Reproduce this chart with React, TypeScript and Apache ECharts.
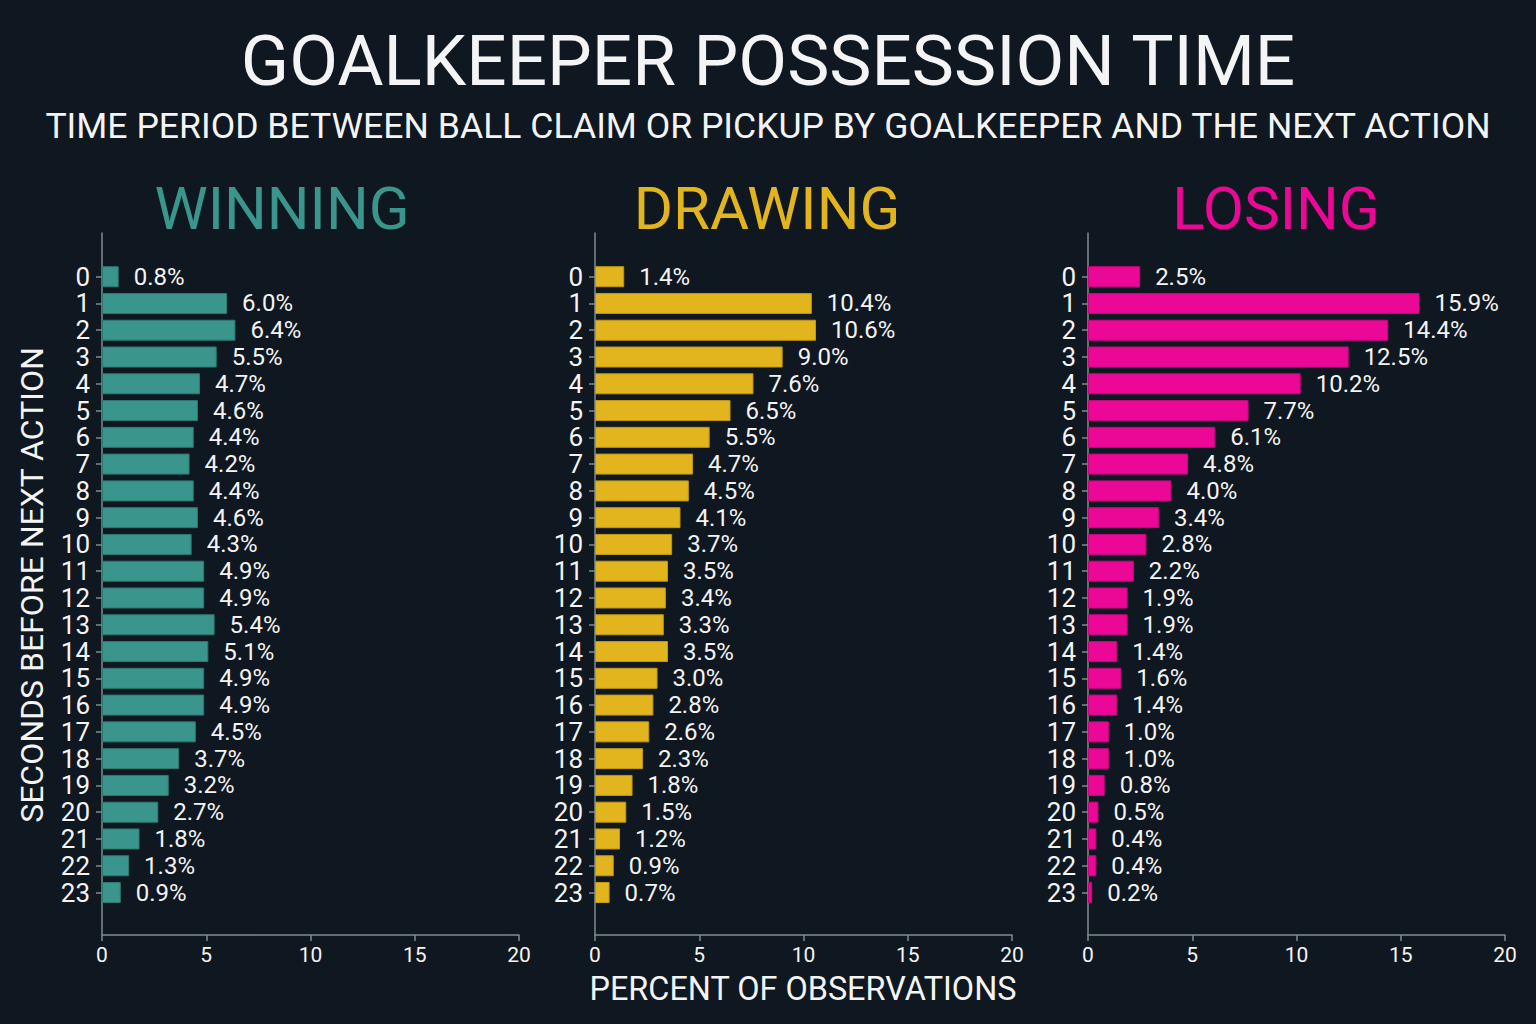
import React, { useEffect, useRef } from "react";
import * as echarts from "echarts";

const categories = Array.from({ length: 24 }, (_, i) => String(i));
const winning = [0.8, 6.0, 6.4, 5.5, 4.7, 4.6, 4.4, 4.2, 4.4, 4.6, 4.3, 4.9, 4.9, 5.4, 5.1, 4.9, 4.9, 4.5, 3.7, 3.2, 2.7, 1.8, 1.3, 0.9];
const drawing = [1.4, 10.4, 10.6, 9.0, 7.6, 6.5, 5.5, 4.7, 4.5, 4.1, 3.7, 3.5, 3.4, 3.3, 3.5, 3.0, 2.8, 2.6, 2.3, 1.8, 1.5, 1.2, 0.9, 0.7];
const losing = [2.5, 15.9, 14.4, 12.5, 10.2, 7.7, 6.1, 4.8, 4.0, 3.4, 2.8, 2.2, 1.9, 1.9, 1.4, 1.6, 1.4, 1.0, 1.0, 0.8, 0.5, 0.4, 0.4, 0.2];
const panelNames = ["WINNING", "DRAWING", "LOSING"];
const panelColors = ["#3a968c", "#e2b41d", "#ec0896"];
const panelBorders = ["#2c7a71", "#c2980f", "#c80680"];
const xTicks = { min: 0, max: 20, interval: 5 };

const BG = "#0f1821";
const TEXT = "#f4f4f4";
const AXIS = "#7d8d8c";
const FONT = "Roboto";

export default function App() {
  const ref = useRef<HTMLDivElement>(null);
  useEffect(() => {
    document.body.style.margin = "0";
    const chart = echarts.init(ref.current!, null, { renderer: "svg" });
    const lefts = [102, 595, 1088];
    const titleCenters = [282, 767, 1276];
    const seriesData = [winning, drawing, losing];
    const grids: any[] = [];
    const xAxes: any[] = [];
    const yAxes: any[] = [];
    const series: any[] = [];
    const graphics: any[] = [];
    lefts.forEach((L, i) => {
      grids.push({ left: L, width: 417, top: 263.3, height: 642.6 });
      grids.push({ left: L, width: 417, top: 233, height: 702 });
      xAxes.push({
        type: "value", gridIndex: 2 * i, min: xTicks.min, max: xTicks.max, interval: xTicks.interval,
        show: false,
      });
      xAxes.push({
        type: "value", gridIndex: 2 * i + 1, min: xTicks.min, max: xTicks.max, interval: xTicks.interval,
        axisLine: { show: true, lineStyle: { color: AXIS, width: 1.5 } },
        axisTick: { show: true, length: 6, lineStyle: { color: AXIS, width: 1.5 } },
        axisLabel: { color: TEXT, fontSize: 21, fontFamily: FONT, margin: 9 },
        splitLine: { show: false },
      });
      yAxes.push({
        type: "category", gridIndex: 2 * i, data: categories, inverse: true,
        axisLine: { show: false },
        axisTick: { show: true, length: 6, alignWithLabel: true, interval: 0, lineStyle: { color: AXIS, width: 1.5 } },
        axisLabel: { color: TEXT, fontSize: 26, lineHeight: 24, fontFamily: FONT, margin: 12, interval: 0 },
        splitLine: { show: false },
      });
      yAxes.push({
        type: "value", gridIndex: 2 * i + 1, min: 0, max: 1,
        axisLine: { show: true, lineStyle: { color: AXIS, width: 1.5 } },
        axisTick: { show: false },
        axisLabel: { show: false },
        splitLine: { show: false },
      });
      series.push({
        type: "bar", xAxisIndex: 2 * i, yAxisIndex: 2 * i, data: seriesData[i],
        barWidth: 21,
        itemStyle: { color: panelColors[i], borderColor: panelBorders[i], borderWidth: 1 },
        label: {
          show: true, position: "right", distance: 15, color: TEXT, fontSize: 24, lineHeight: 24, fontFamily: FONT,
          formatter: (p: any) => `${Number(p.value).toFixed(1)}%`,
        },
      });
      graphics.push({
        type: "text", x: titleCenters[i], y: 208,
        style: { text: panelNames[i], fill: panelColors[i], font: `400 60px ${FONT}`, textAlign: "center", textVerticalAlign: "middle" },
      });
    });
    graphics.push(
      {
        type: "text", x: 768, y: 60,
        style: { text: "GOALKEEPER POSSESSION TIME", fill: TEXT, font: `400 71px ${FONT}`, textAlign: "center", textVerticalAlign: "middle" },
      },
      {
        type: "text", x: 768, y: 126,
        style: { text: "TIME PERIOD BETWEEN BALL CLAIM OR PICKUP BY GOALKEEPER AND THE NEXT ACTION", fill: TEXT, font: `400 35.6px ${FONT}`, textAlign: "center", textVerticalAlign: "middle" },
      },
      {
        type: "text", x: 803, y: 989,
        style: { text: "PERCENT OF OBSERVATIONS", fill: TEXT, font: `400 32.4px ${FONT}`, textAlign: "center", textVerticalAlign: "middle" },
      },
      {
        type: "text", x: 32, y: 585, rotation: Math.PI / 2,
        style: { text: "SECONDS BEFORE NEXT ACTION", fill: TEXT, font: `400 32px ${FONT}`, textAlign: "center", textVerticalAlign: "middle" },
      }
    );
    chart.setOption({
      animation: false,
      backgroundColor: BG,
      grid: grids,
      xAxis: xAxes,
      yAxis: yAxes,
      series,
      graphic: graphics,
    });
    return () => chart.dispose();
  }, []);
  return <div ref={ref} style={{ width: 1536, height: 1024 }} />;
}
